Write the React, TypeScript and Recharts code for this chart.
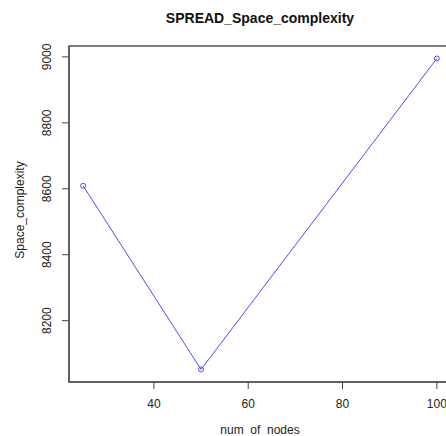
import { LineChart, Line, XAxis, YAxis, ReferenceArea } from "recharts";

const nodes = [25, 50, 100];
const spaceComplexity = [8609, 8052, 8995];
const xTicks = [40, 60, 80, 100];
const yTicks = [8200, 8400, 8600, 8800, 9000];

const data = nodes.map((n, i) => ({ nodes: n, space: spaceComplexity[i] }));

const FONT = "'Liberation Sans', Arial, Helvetica, sans-serif";

// y tick labels are rotated like R's default las=0
const YTick = ({ x, y, payload }: any) => (
  <text
    x={x - 9}
    y={y}
    transform={`rotate(-90, ${x - 9}, ${y})`}
    textAnchor="middle"
    fontSize={12}
    fontFamily={FONT}
    fill="#222"
  >
    {payload.value}
  </text>
);

const XTick = ({ x, y, payload }: any) => (
  <text
    x={x}
    y={y + 17}
    textAnchor="middle"
    fontSize={12}
    fontFamily={FONT}
    fill="#222"
  >
    {payload.value}
  </text>
);

export default function App() {
  return (
    <div
      style={{
        position: "absolute",
        left: 0,
        top: 0,
        width: 446,
        height: 436,
        overflow: "hidden",
        background: "#fff",
        fontFamily: FONT,
      }}
    >
      <div
        style={{
          position: "absolute",
          top: 10,
          left: 0,
          width: 520,
          textAlign: "center",
          fontWeight: "bold",
          fontSize: 14,
          color: "#111",
        }}
      >
        SPREAD_Space_complexity
      </div>
      <div
        style={{
          position: "absolute",
          top: 425,
          left: 0,
          width: 520,
          textAlign: "center",
          fontSize: 12,
          lineHeight: "10px",
          color: "#222",
        }}
      >
        num&nbsp; of&nbsp; nodes
      </div>
      <div
        style={{
          position: "absolute",
          left: 20,
          top: 210,
          transform: "translate(-50%, -50%) rotate(-90deg)",
          fontSize: 12,
          color: "#222",
          whiteSpace: "nowrap",
        }}
      >
        Space_complexity
      </div>
      <LineChart
        width={460}
        height={436}
        data={data}
        margin={{ top: 46, right: 9, left: 0, bottom: 0 }}
      >
        <XAxis
          dataKey="nodes"
          type="number"
          domain={[22, 103]}
          ticks={xTicks}
          height={54}
          axisLine={{ stroke: "#444" }}
          tickLine={{ stroke: "#444" }}
          tickSize={7}
          tick={<XTick />}
          allowDataOverflow
        />
        <YAxis
          type="number"
          domain={[8014, 9033]}
          ticks={yTicks}
          width={69}
          axisLine={{ stroke: "#444" }}
          tickLine={{ stroke: "#444" }}
          tickSize={7}
          tick={<YTick />}
          allowDataOverflow
        />
        <ReferenceArea
          x1={22}
          x2={103}
          y1={8014}
          y2={9033}
          fill="none"
          stroke="#555"
          strokeWidth={1.5}
          ifOverflow="visible"
        />
        <Line
          dataKey="space"
          stroke="#4a4aff"
          strokeWidth={1}
          dot={{ r: 2.5, stroke: "#4a4aff", fill: "none", strokeWidth: 1 }}
          isAnimationActive={false}
        />
      </LineChart>
    </div>
  );
}
